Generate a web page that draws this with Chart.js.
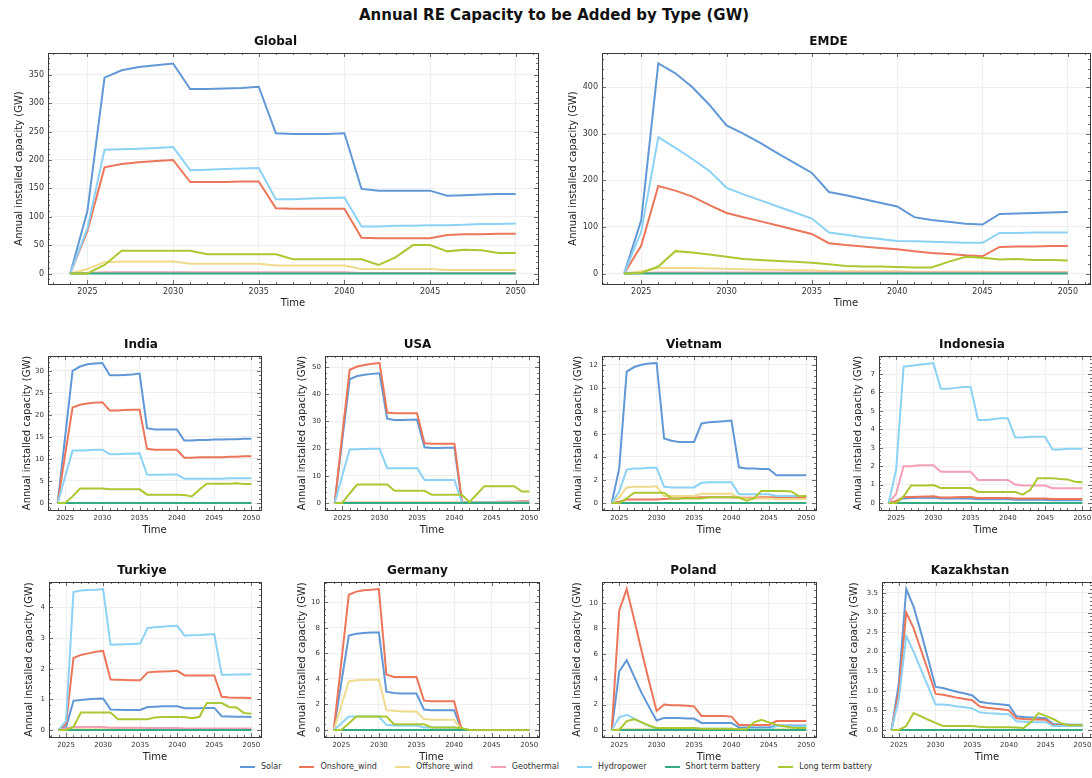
<!DOCTYPE html>
<html>
<head>
<meta charset="utf-8">
<script src="https://cdn.jsdelivr.net/npm/chart.js@4.4.1/dist/chart.umd.min.js"></script>
<style>
html,body{margin:0;padding:0;background:#fff;width:1092px;height:778px;overflow:hidden;position:relative;font-family:"DejaVu Sans",sans-serif;}
#title{position:absolute;left:554px;top:6px;transform:translateX(-50%);white-space:nowrap;font-weight:bold;font-size:15px;color:#111;}
canvas{position:absolute;}
#legend{position:absolute;top:762px;left:556px;transform:translateX(-50%);display:flex;gap:18px;font-size:8px;color:#333;white-space:nowrap;align-items:center;}
#legend .item{display:flex;align-items:center;}
#legend .swatch{width:15px;height:2px;margin-right:6px;}
</style>
</head>
<body>
<div id="title">Annual RE Capacity to be Added by Type (GW)</div>
<div id="legend"></div>
<script>
// ---------- DATA ----------
const YEARS = [2024,2025,2026,2027,2028,2029,2030,2031,2032,2033,2034,2035,2036,2037,2038,2039,2040,2041,2042,2043,2044,2045,2046,2047,2048,2049,2050];
const SERIES_NAMES = ['Solar','Onshore_wind','Offshore_wind','Geothermal','Hydropower','Short term battery','Long term battery'];
const X_TICKS = [2025,2030,2035,2040,2045,2050];
const ZEROS = [0,0,0,0,0,0,0,0,0,0,0,0,0,0,0,0,0,0,0,0,0,0,0,0,0,0,0];

// Global
const GLOBAL_SOLAR    = [0,110,345,358,364,367,370,325,325,326,327,329,247,246,246,246,247,149,146,146,146,146,137,138,139,140,140];
const GLOBAL_ONSHORE  = [0,75,187,193,196,198,200,161,161,161,162,162,115,114,114,114,114,63,62,62,62,62,68,69,69,70,70];
const GLOBAL_OFFSHORE = [0,8,20,21,21,21,21,17,17,17,17,17,14,14,14,14,14,8,8,8,8,8,6,6,6,6,6];
const GLOBAL_GEO      = [0,1,2,2,2,2,2,2,2,2,2,2,2,2,2,2,2,1,1,1,1,1,1,1,1,1,1];
const GLOBAL_HYDRO    = [0,80,218,219,220,221,223,182,183,184,185,186,131,131,132,133,134,83,83,84,84,85,85,86,87,87,88];
const GLOBAL_SHORT    = ZEROS;
const GLOBAL_LONG     = [0,0,15,40,40,40,40,40,34,34,34,34,34,25,25,25,25,25,15,29,50,50,39,42,41,36,36];
const GLOBAL_YTICKS   = [0,50,100,150,200,250,300,350];

// EMDE
const EMDE_SOLAR    = [0,115,451,430,400,362,318,300,280,258,237,216,175,168,160,152,144,121,115,111,107,105,128,129,130,131,132];
const EMDE_ONSHORE  = [0,60,188,178,165,147,130,121,112,103,94,85,65,61,58,55,52,48,44,42,39,37,57,58,58,59,59];
const EMDE_OFFSHORE = [0,5,12,12,12,11,10,9,8,8,7,7,5,5,5,5,5,4,4,4,4,4,3,3,3,3,3];
const EMDE_GEO      = [0,1,2,2,2,2,2,2,2,2,2,2,2,2,2,2,2,2,2,2,2,2,2,2,2,2,2];
const EMDE_HYDRO    = [0,90,293,270,246,220,184,170,157,144,131,118,88,83,78,74,70,69,68,67,66,66,87,87,88,88,88];
const EMDE_SHORT    = ZEROS;
const EMDE_LONG     = [0,1,15,48,45,41,36,31,29,27,25,23,20,16,15,15,14,13,13,25,36,34,30,31,29,29,28];
const EMDE_YTICKS   = [0,100,200,300,400];

// India
const INDIA_SOLAR    = [0,15,30,31,31.5,31.7,31.8,29,29,29.1,29.2,29.4,17,16.7,16.7,16.7,16.7,14.2,14.2,14.3,14.3,14.4,14.4,14.5,14.5,14.6,14.6];
const INDIA_ONSHORE  = [0,11,21.7,22.3,22.6,22.8,22.9,21,21,21.1,21.2,21.2,12.3,12.1,12.1,12.1,12.1,10.3,10.3,10.4,10.4,10.4,10.4,10.5,10.5,10.6,10.6];
const INDIA_OFFSHORE = ZEROS;
const INDIA_GEO      = ZEROS;
const INDIA_HYDRO    = [0,6,11.9,11.9,12,12.1,12.1,11.1,11.1,11.2,11.2,11.3,6.4,6.4,6.4,6.5,6.5,5.5,5.5,5.5,5.5,5.5,5.5,5.6,5.6,5.6,5.6];
const INDIA_SHORT    = ZEROS;
const INDIA_LONG     = [0,0,1.5,3.3,3.3,3.3,3.3,3.1,3.1,3.1,3.1,3.1,1.9,1.9,1.9,1.9,1.9,1.8,1.5,3,4.4,4.4,4.4,4.4,4.5,4.3,4.3];
const INDIA_YTICKS   = [0,5,10,15,20,25,30];

// USA
const USA_SOLAR    = [0,23,45.5,46.7,47.2,47.5,47.7,31,30.5,30.5,30.6,30.7,20.5,20.2,20.2,20.3,20.3,0.2,0.2,0.2,0.2,0.2,0.3,0.3,0.3,0.3,0.3];
const USA_ONSHORE  = [0,25,49,50.2,50.8,51.2,51.5,33.3,33,33,33,33,22,21.8,21.8,21.8,21.8,0.5,0.3,0.3,0.3,0.3,0.5,0.5,0.5,0.6,0.6];
const USA_OFFSHORE = [0,0.1,0.2,0.2,0.2,0.2,0.2,0.2,0.2,0.2,0.2,0.2,0.2,0.2,0.2,0.2,0.2,0.1,0.1,0.1,0.1,0.1,0.1,0.1,0.1,0.1,0.1];
const USA_GEO      = [0,0.05,0.1,0.1,0.1,0.1,0.1,0.1,0.1,0.1,0.1,0.1,0.1,0.1,0.1,0.1,0.1,0.1,0.1,0.1,0.1,0.1,0.1,0.1,0.1,0.1,0.1];
const USA_HYDRO    = [0,10,19.7,19.8,19.9,20,20,12.8,12.8,12.8,12.8,12.9,8.5,8.5,8.5,8.5,8.5,0.2,0.2,0.2,0.2,0.2,0.2,0.2,0.2,0.2,0.2];
const USA_SHORT    = ZEROS;
const USA_LONG     = [0,0,3.5,6.8,6.8,6.8,6.8,6.8,4.5,4.5,4.5,4.5,4.5,3,3,3,3,3,0.3,3.2,6.2,6.2,6.2,6.2,6.2,4.2,4.2];
const USA_YTICKS   = [0,10,20,30,40,50];

// Vietnam
const VIETNAM_SOLAR    = [0,3,11.4,11.8,12,12.1,12.15,5.6,5.4,5.3,5.3,5.3,6.9,7,7.05,7.1,7.15,3.1,3,3,2.95,2.95,2.4,2.4,2.4,2.4,2.4];
const VIETNAM_ONSHORE  = [0,0.1,0.3,0.3,0.3,0.3,0.3,0.35,0.4,0.4,0.45,0.45,0.5,0.5,0.5,0.5,0.5,0.45,0.45,0.45,0.5,0.5,0.5,0.5,0.5,0.5,0.5];
const VIETNAM_OFFSHORE = [0,0.5,1.35,1.4,1.4,1.4,1.45,0.6,0.6,0.6,0.6,0.6,0.8,0.8,0.8,0.8,0.8,0.4,0.4,0.4,0.4,0.4,0.35,0.35,0.35,0.35,0.35];
const VIETNAM_GEO      = ZEROS;
const VIETNAM_HYDRO    = [0,1,2.9,3,3,3.05,3.05,1.4,1.35,1.35,1.35,1.35,1.75,1.8,1.8,1.8,1.8,0.75,0.75,0.75,0.75,0.75,0.6,0.6,0.6,0.6,0.6];
const VIETNAM_SHORT    = ZEROS;
const VIETNAM_LONG     = [0,0,0.4,0.9,0.9,0.9,0.9,0.9,0.4,0.4,0.4,0.4,0.4,0.5,0.5,0.5,0.5,0.5,0.2,0.4,1.05,1.05,1.05,1.05,1.0,0.6,0.6];
const VIETNAM_YTICKS   = [0,2,4,6,8,10,12];

// Indonesia
const INDONESIA_SOLAR    = [0,0.1,0.25,0.27,0.28,0.29,0.3,0.25,0.25,0.25,0.25,0.25,0.2,0.2,0.2,0.2,0.2,0.18,0.18,0.18,0.18,0.18,0.15,0.15,0.15,0.15,0.15];
const INDONESIA_ONSHORE  = [0,0.1,0.32,0.33,0.34,0.35,0.36,0.3,0.3,0.31,0.32,0.32,0.27,0.27,0.27,0.27,0.27,0.24,0.24,0.24,0.24,0.24,0.22,0.22,0.22,0.22,0.22];
const INDONESIA_OFFSHORE = ZEROS;
const INDONESIA_GEO      = [0,0.5,2.0,2.0,2.05,2.05,2.05,1.7,1.7,1.7,1.7,1.7,1.25,1.25,1.25,1.25,1.25,1.0,0.95,0.95,0.95,0.95,0.8,0.8,0.8,0.8,0.8];
const INDONESIA_HYDRO    = [0,1.8,7.4,7.45,7.5,7.55,7.6,6.2,6.2,6.25,6.3,6.3,4.5,4.5,4.55,4.6,4.6,3.55,3.55,3.6,3.6,3.6,2.9,2.9,2.95,2.95,2.95];
const INDONESIA_SHORT    = ZEROS;
const INDONESIA_LONG     = [0,0,0.35,0.95,0.95,0.95,0.97,0.82,0.82,0.82,0.82,0.82,0.6,0.6,0.6,0.6,0.6,0.6,0.45,0.7,1.35,1.35,1.35,1.3,1.28,1.15,1.12];
const INDONESIA_YTICKS   = [0,1,2,3,4,5,6,7];

// Turkiye
const TURKIYE_SOLAR    = [0,0.1,0.95,0.98,1.0,1.02,1.03,0.67,0.66,0.65,0.65,0.65,0.75,0.76,0.77,0.77,0.77,0.71,0.71,0.71,0.72,0.72,0.45,0.44,0.43,0.43,0.42];
const TURKIYE_ONSHORE  = [0,0.2,2.35,2.45,2.5,2.55,2.58,1.65,1.64,1.63,1.62,1.62,1.88,1.9,1.91,1.92,1.93,1.78,1.78,1.78,1.78,1.78,1.08,1.06,1.05,1.05,1.04];
const TURKIYE_OFFSHORE = [0,0.01,0.02,0.02,0.02,0.02,0.02,0.02,0.02,0.02,0.02,0.02,0.02,0.02,0.02,0.02,0.02,0.02,0.02,0.02,0.02,0.02,0.02,0.02,0.02,0.02,0.02];
const TURKIYE_GEO      = [0,0.05,0.1,0.1,0.1,0.1,0.1,0.07,0.07,0.07,0.07,0.07,0.06,0.06,0.06,0.06,0.06,0.05,0.05,0.05,0.05,0.05,0.05,0.05,0.05,0.05,0.05];
const TURKIYE_HYDRO    = [0,0.3,4.5,4.55,4.57,4.58,4.6,2.78,2.79,2.8,2.81,2.82,3.33,3.35,3.37,3.39,3.4,3.08,3.09,3.1,3.12,3.13,1.8,1.8,1.81,1.81,1.82];
const TURKIYE_SHORT    = ZEROS;
const TURKIYE_LONG     = [0,0,0.1,0.57,0.57,0.57,0.57,0.57,0.35,0.35,0.35,0.35,0.35,0.41,0.42,0.42,0.42,0.42,0.38,0.43,0.88,0.88,0.88,0.75,0.73,0.55,0.53];
const TURKIYE_YTICKS   = [0,1,2,3,4];

// Germany
const GERMANY_SOLAR    = [0,3.7,7.4,7.55,7.6,7.65,7.65,3.0,2.9,2.85,2.85,2.85,1.6,1.55,1.55,1.55,1.55,0.03,0,0,0,0,0,0,0,0,0];
const GERMANY_ONSHORE  = [0,5.3,10.6,10.85,10.95,11.0,11.05,4.35,4.15,4.15,4.15,4.15,2.3,2.25,2.25,2.25,2.25,0.05,0,0,0,0,0,0,0,0,0];
const GERMANY_OFFSHORE = [0,1.9,3.8,3.9,3.92,3.93,3.95,1.55,1.5,1.45,1.45,1.45,0.85,0.8,0.8,0.8,0.8,0.02,0,0,0,0,0,0,0,0,0];
const GERMANY_GEO      = ZEROS;
const GERMANY_HYDRO    = [0,0.5,1.05,1.05,1.05,1.05,1.05,0.4,0.35,0.35,0.35,0.35,0.2,0.2,0.2,0.2,0.2,0,0,0,0,0,0,0,0,0,0];
const GERMANY_SHORT    = ZEROS;
const GERMANY_LONG     = [0,0,0.5,1.05,1.05,1.05,1.05,1.05,0.45,0.45,0.45,0.45,0.45,0.2,0.2,0.2,0.2,0.15,0,0,0,0,0,0,0,0,0];
const GERMANY_YTICKS   = [0,2,4,6,8,10];

// Poland
const POLAND_SOLAR    = [0,4.6,5.5,4.2,2.9,1.8,0.75,0.95,0.95,0.95,0.9,0.9,0.55,0.55,0.55,0.55,0.55,0.2,0.2,0.2,0.2,0.2,0.35,0.35,0.35,0.35,0.35];
const POLAND_ONSHORE  = [0,9.4,11.1,8.7,6.2,3.8,1.5,2.0,1.95,1.95,1.9,1.85,1.1,1.1,1.1,1.1,1.05,0.4,0.4,0.4,0.4,0.4,0.7,0.7,0.7,0.7,0.7];
const POLAND_OFFSHORE = [0,0.05,0.05,0.05,0.05,0.05,0.05,0.05,0.05,0.05,0.05,0.05,0.05,0.05,0.05,0.05,0.05,0.05,0.05,0.05,0.05,0.05,0.05,0.05,0.05,0.05,0.05];
const POLAND_GEO      = ZEROS;
const POLAND_HYDRO    = [0,1.0,1.2,0.9,0.6,0.3,0.1,0.15,0.15,0.15,0.15,0.15,0.1,0.1,0.1,0.1,0.1,0.05,0.05,0.05,0.05,0.05,0.3,0.3,0.3,0.3,0.3];
const POLAND_SHORT    = ZEROS;
const POLAND_LONG     = [0,0,0.7,0.85,0.6,0.35,0.15,0.15,0.15,0.15,0.15,0.15,0.1,0.1,0.1,0.1,0.1,0.05,0.05,0.6,0.8,0.6,0.4,0.3,0.2,0.15,0.15];
const POLAND_YTICKS   = [0,2,4,6,8,10];

// Kazakhstan
const KAZAKHSTAN_SOLAR    = [0,1.2,3.6,3.15,2.5,1.8,1.1,1.07,1.02,0.97,0.93,0.88,0.72,0.69,0.67,0.65,0.63,0.35,0.33,0.32,0.31,0.30,0.15,0.14,0.14,0.13,0.13];
const KAZAKHSTAN_ONSHORE  = [0,1.0,3.0,2.6,2.05,1.5,0.92,0.9,0.86,0.82,0.79,0.76,0.6,0.57,0.55,0.53,0.5,0.3,0.28,0.27,0.27,0.26,0.12,0.12,0.12,0.11,0.11];
const KAZAKHSTAN_OFFSHORE = ZEROS;
const KAZAKHSTAN_GEO      = ZEROS;
const KAZAKHSTAN_HYDRO    = [0,0.8,2.4,2.0,1.55,1.1,0.65,0.65,0.63,0.6,0.58,0.55,0.45,0.43,0.42,0.41,0.4,0.22,0.21,0.2,0.2,0.2,0.1,0.1,0.1,0.1,0.1];
const KAZAKHSTAN_SHORT    = ZEROS;
const KAZAKHSTAN_LONG     = [0,0,0.1,0.43,0.35,0.26,0.18,0.1,0.1,0.1,0.1,0.1,0.08,0.07,0.07,0.07,0.07,0.06,0.05,0.2,0.43,0.36,0.28,0.18,0.12,0.12,0.12];
const KAZAKHSTAN_YTICKS   = [0,0.5,1.0,1.5,2.0,2.5,3.0,3.5];

// ---------- STYLE ----------
const FONT = '"DejaVu Sans", sans-serif';
const SERIES_COLORS = ['#6198d6','#ec765a','#f0da8c','#f4a0b4','#8cd2f5','#32aa82','#aac832'];

const REGIONS = [
  {name:'Global', series:[GLOBAL_SOLAR,GLOBAL_ONSHORE,GLOBAL_OFFSHORE,GLOBAL_GEO,GLOBAL_HYDRO,GLOBAL_SHORT,GLOBAL_LONG], yticks:GLOBAL_YTICKS,
   box:{L:48,R:538,T:53,B:284,yW:35,xH:25,tf:8,xpad:3,minor:10}},
  {name:'EMDE', series:[EMDE_SOLAR,EMDE_ONSHORE,EMDE_OFFSHORE,EMDE_GEO,EMDE_HYDRO,EMDE_SHORT,EMDE_LONG], yticks:EMDE_YTICKS,
   box:{L:602,R:1090,T:53,B:284,yW:35,xH:25,tf:8,xpad:3,minor:20}},
  {name:'India', series:[INDIA_SOLAR,INDIA_ONSHORE,INDIA_OFFSHORE,INDIA_GEO,INDIA_HYDRO,INDIA_SHORT,INDIA_LONG], yticks:INDIA_YTICKS,
   box:{L:48,R:261,T:356,B:510,yW:27,xH:26,tf:7,xpad:4,minor:1}},
  {name:'USA', series:[USA_SOLAR,USA_ONSHORE,USA_OFFSHORE,USA_GEO,USA_HYDRO,USA_SHORT,USA_LONG], yticks:USA_YTICKS,
   box:{L:325,R:539,T:356,B:510,yW:29,xH:26,tf:7,xpad:4,minor:2}},
  {name:'Vietnam', series:[VIETNAM_SOLAR,VIETNAM_ONSHORE,VIETNAM_OFFSHORE,VIETNAM_GEO,VIETNAM_HYDRO,VIETNAM_SHORT,VIETNAM_LONG], yticks:VIETNAM_YTICKS,
   box:{L:602,R:816,T:356,B:510,yW:30,xH:26,tf:7,xpad:4,minor:0.5}},
  {name:'Indonesia', series:[INDONESIA_SOLAR,INDONESIA_ONSHORE,INDONESIA_OFFSHORE,INDONESIA_GEO,INDONESIA_HYDRO,INDONESIA_SHORT,INDONESIA_LONG], yticks:INDONESIA_YTICKS,
   box:{L:879,R:1092,T:356,B:510,yW:27,xH:26,tf:7,xpad:4,minor:0.2}},
  {name:'Turkiye', series:[TURKIYE_SOLAR,TURKIYE_ONSHORE,TURKIYE_OFFSHORE,TURKIYE_GEO,TURKIYE_HYDRO,TURKIYE_SHORT,TURKIYE_LONG], yticks:TURKIYE_YTICKS,
   box:{L:49,R:261,T:582,B:737,yW:26,xH:26,tf:7,xpad:4,minor:0.2}},
  {name:'Germany', series:[GERMANY_SOLAR,GERMANY_ONSHORE,GERMANY_OFFSHORE,GERMANY_GEO,GERMANY_HYDRO,GERMANY_SHORT,GERMANY_LONG], yticks:GERMANY_YTICKS,
   box:{L:324,R:539,T:582,B:737,yW:28,xH:26,tf:7,xpad:4,minor:0.5}},
  {name:'Poland', series:[POLAND_SOLAR,POLAND_ONSHORE,POLAND_OFFSHORE,POLAND_GEO,POLAND_HYDRO,POLAND_SHORT,POLAND_LONG], yticks:POLAND_YTICKS,
   box:{L:602,R:816,T:582,B:737,yW:31,xH:26,tf:7,xpad:4,minor:0.5}},
  {name:'Kazakhstan', series:[KAZAKHSTAN_SOLAR,KAZAKHSTAN_ONSHORE,KAZAKHSTAN_OFFSHORE,KAZAKHSTAN_GEO,KAZAKHSTAN_HYDRO,KAZAKHSTAN_SHORT,KAZAKHSTAN_LONG], yticks:KAZAKHSTAN_YTICKS,
   box:{L:882,R:1092,T:582,B:737,yW:34,xH:26,tf:7,xpad:4,minor:0.1}, decimals:1}
];

Chart.defaults.font.family = FONT;

// frame + inward major/minor ticks on all four sides
const frameTicks = {
  id: 'frameTicks',
  afterDraw(chart, args, opts) {
    const {ctx, chartArea: a, scales: {x, y}} = chart;
    ctx.save();
    ctx.strokeStyle = '#333';
    ctx.lineWidth = 0.7;
    ctx.beginPath();
    const xMaj = x.ticks.map(t => t.value);
    const yMaj = y.ticks.map(t => t.value);
    const near = (arr, v) => arr.some(m => Math.abs(m - v) < 1e-6);
    for (let v = Math.ceil(x.min); v <= x.max; v += 1) {
      const len = near(xMaj, v) ? 4 : 2;
      const p = Math.round(x.getPixelForValue(v)) + 0.5;
      ctx.moveTo(p, a.bottom); ctx.lineTo(p, a.bottom - len);
      ctx.moveTo(p, a.top); ctx.lineTo(p, a.top + len);
    }
    const st = opts.minor;
    for (let k = Math.ceil(y.min / st); k * st <= y.max + 1e-9; k++) {
      const v = k * st;
      const len = near(yMaj, v) ? 4 : 2;
      const p = Math.round(y.getPixelForValue(v)) + 0.5;
      ctx.moveTo(a.left, p); ctx.lineTo(a.left + len, p);
      ctx.moveTo(a.right, p); ctx.lineTo(a.right - len, p);
    }
    ctx.stroke();
    ctx.lineWidth = 1;
    ctx.strokeStyle = '#3a3a3a';
    ctx.strokeRect(Math.round(a.left) + 0.5, Math.round(a.top) + 0.5, Math.round(a.right - a.left), Math.round(a.bottom - a.top));
    ctx.restore();
  }
};

function makeChart(reg) {
  const c = reg.box;
  const canvas = document.createElement('canvas');
  const w = c.R - c.L + c.yW + 6, h = c.B - c.T + 20 + c.xH;
  canvas.width = w; canvas.height = h;
  canvas.style.left = (c.L - c.yW) + 'px';
  canvas.style.top = (c.T - 20) + 'px';
  canvas.style.width = w + 'px';
  canvas.style.height = h + 'px';
  document.body.appendChild(canvas);
  const all = reg.series.flat();
  const lo = Math.min(...all), hi = Math.max(...all);
  const m = (hi - lo) * 0.05;
  const dec = reg.decimals || 0;
  new Chart(canvas, {
    type: 'line',
    data: {
      datasets: reg.series.map((arr, i) => ({
        label: SERIES_NAMES[i],
        data: YEARS.map((yr, j) => ({x: yr, y: arr[j]})),
        borderColor: SERIES_COLORS[i],
        backgroundColor: SERIES_COLORS[i],
        borderWidth: 2,
        pointRadius: 0,
        tension: 0,
        fill: false,
        order: 6 - i
      }))
    },
    options: {
      responsive: false,
      animation: false,
      devicePixelRatio: 1,
      layout: {padding: {left: 0, top: 0, right: 6, bottom: 0}},
      plugins: {
        legend: {display: false},
        tooltip: {enabled: false},
        title: {display: true, text: reg.name, color: '#111',
                font: {family: FONT, size: 12, weight: 'bold', lineHeight: 1.2},
                padding: {top: 2, bottom: 3.6}},
        frameTicks: {minor: c.minor}
      },
      scales: {
        x: {
          type: 'linear', min: 2022.7, max: 2051.3,
          afterBuildTicks: s => { s.ticks = X_TICKS.map(v => ({value: v})); },
          afterFit: s => { s.height = c.xH; },
          ticks: {autoSkip: false, maxRotation: 0, minRotation: 0, color: '#333',
                  font: {family: FONT, size: c.tf}, padding: c.xpad, callback: v => String(v)},
          grid: {color: '#e4e4e4', lineWidth: 0.6, drawTicks: false},
          border: {display: false},
          title: {display: true, text: 'Time', color: '#222', font: {family: FONT, size: 10, lineHeight: 1.2},
                  padding: {top: 0, bottom: 0}}
        },
        y: {
          type: 'linear', min: lo - m, max: hi + m,
          afterBuildTicks: s => { s.ticks = reg.yticks.map(v => ({value: v})); },
          afterFit: s => { s.width = c.yW; },
          ticks: {autoSkip: false, color: '#333', font: {family: FONT, size: c.tf}, padding: 4,
                  callback: v => v.toFixed(dec)},
          grid: {color: '#e4e4e4', lineWidth: 0.6, drawTicks: false},
          border: {display: false},
          title: {display: true, text: 'Annual installed capacity (GW)', color: '#222',
                  font: {family: FONT, size: 10, lineHeight: 1.2}, padding: {top: 0, bottom: 0}}
        }
      }
    },
    plugins: [frameTicks]
  });
}

REGIONS.forEach(makeChart);

// legend
const legend = document.getElementById('legend');
SERIES_NAMES.forEach((n, i) => {
  const it = document.createElement('div');
  it.className = 'item';
  const sw = document.createElement('span');
  sw.className = 'swatch';
  sw.style.background = SERIES_COLORS[i];
  const tx = document.createElement('span');
  tx.textContent = n;
  it.appendChild(sw); it.appendChild(tx);
  legend.appendChild(it);
});
</script>
</body>
</html>
